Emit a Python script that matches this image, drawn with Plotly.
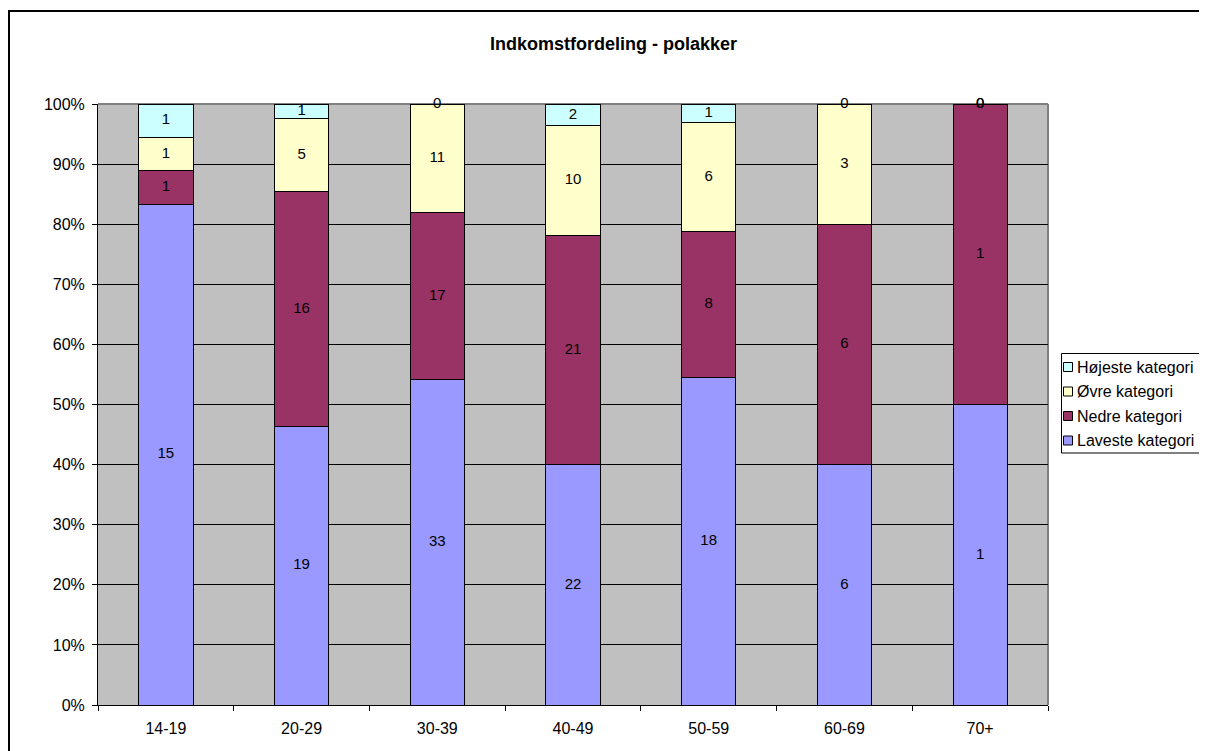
import plotly.graph_objects as go

categories = ["14-19", "20-29", "30-39", "40-49", "50-59", "60-69", "70+"]
laveste = [15, 19, 33, 22, 18, 6, 1]
nedre = [1, 16, 17, 21, 8, 6, 1]
ovre = [1, 5, 11, 10, 6, 3, 0]
hojeste = [1, 1, 0, 2, 1, 0, 0]

series = [
    ("Laveste kategori", laveste, "#9999FF"),
    ("Nedre kategori", nedre, "#993366"),
    ("Øvre kategori", ovre, "#FFFFCC"),
    ("Højeste kategori", hojeste, "#CCFFFF"),
]
y_ticks = [0, 10, 20, 30, 40, 50, 60, 70, 80, 90, 100]
y_tick_labels = [f"{v}%" for v in y_ticks]
title_text = "Indkomstfordeling - polakker"

FONT = "Arial, Liberation Sans, sans-serif"
totals = [sum(s[1][i] for s in series) for i in range(len(categories))]

# page offset (body margin) and figure geometry
OFF = 8
W, H = 1199, 743
L, T = 98 - OFF, 104 - OFF
pw = 1048 - 98
ph = 705 - 104
R = W - L - pw
B = H - T - ph


def xp(sx):
    return (sx - OFF - L) / pw


def yp(sy):
    return (H - B - (sy - OFF)) / ph


fig = go.Figure()
cum = [0.0] * len(categories)
label_x, label_y, label_t = [], [], []
for name, vals, color in series:
    pct = [v / t * 100 for v, t in zip(vals, totals)]
    fig.add_trace(go.Bar(
        x=categories, y=pct, name=name, showlegend=False,
        marker=dict(color=color, line=dict(color="black", width=1)),
        hoverinfo="skip",
    ))
    for i, p in enumerate(pct):
        label_x.append(categories[i])
        label_y.append(cum[i] + p / 2)
        label_t.append(str(vals[i]))
        cum[i] += p

fig.add_trace(go.Scatter(
    x=label_x, y=label_y, text=label_t, mode="text",
    textfont=dict(family=FONT, size=15, color="black"),
    showlegend=False, hoverinfo="skip", cliponaxis=False,
))

shapes = [
    dict(type="line", xref="paper", yref="paper", x0=0, x1=1, y0=1, y1=1,
         line=dict(color="#808080", width=2), layer="below"),
    dict(type="line", xref="paper", yref="paper", x0=1, x1=1, y0=0, y1=1,
         line=dict(color="#808080", width=2), layer="below"),
    dict(type="rect", xref="paper", yref="paper",
         x0=xp(9), x1=xp(1300), y0=yp(900), y1=yp(11),
         line=dict(color="black", width=2), fillcolor="rgba(0,0,0,0)"),
    # legend box
    dict(type="rect", xref="paper", yref="paper",
         x0=xp(1061.5), x1=xp(1300), y0=yp(453), y1=yp(353.5),
         line=dict(color="black", width=1), fillcolor="white"),
]
annotations = []
row_y = [367, 391.5, 416, 440.5]
for (name, vals, color), ry in zip(reversed(series), row_y):
    shapes.append(dict(type="rect", xref="paper", yref="paper",
                       x0=xp(1063.5), x1=xp(1072.5), y0=yp(ry + 4.5), y1=yp(ry - 4.5),
                       line=dict(color="black", width=1), fillcolor=color))
    annotations.append(dict(text=name, xref="paper", yref="paper",
                            x=xp(1075), y=yp(ry), xanchor="left", yanchor="middle",
                            showarrow=False,
                            font=dict(family=FONT, size=16, color="black")))

fig.update_layout(
    width=W, height=H,
    barmode="stack", bargap=0.6,
    paper_bgcolor="white", plot_bgcolor="#C0C0C0",
    margin=dict(l=L, r=R, t=T, b=B, pad=0),
    font=dict(family=FONT, size=16, color="black"),
    showlegend=False,
    title=dict(text=f"<b>{title_text}</b>", x=(613.5 - OFF) / W, xanchor="center",
               y=1 - (44 - OFF) / H, yanchor="middle", yref="container",
               font=dict(family=FONT, size=18, color="black")),
    xaxis=dict(
        type="category", showgrid=False, showline=True, linecolor="black", linewidth=1,
        ticks="outside", ticklen=5, tickcolor="black", tickson="boundaries",
        ticklabelstandoff=9,
        tickfont=dict(family=FONT, size=16, color="black"),
    ),
    yaxis=dict(
        range=[0, 100], tickvals=y_ticks, ticktext=y_tick_labels,
        showgrid=True, gridcolor="black", gridwidth=1,
        showline=True, linecolor="black", linewidth=1,
        ticks="outside", ticklen=5, tickcolor="black", zeroline=False,
        ticklabelstandoff=4,
        tickfont=dict(family=FONT, size=16, color="black"),
    ),
    shapes=shapes,
    annotations=annotations,
)

fig.write_html("out.html")
